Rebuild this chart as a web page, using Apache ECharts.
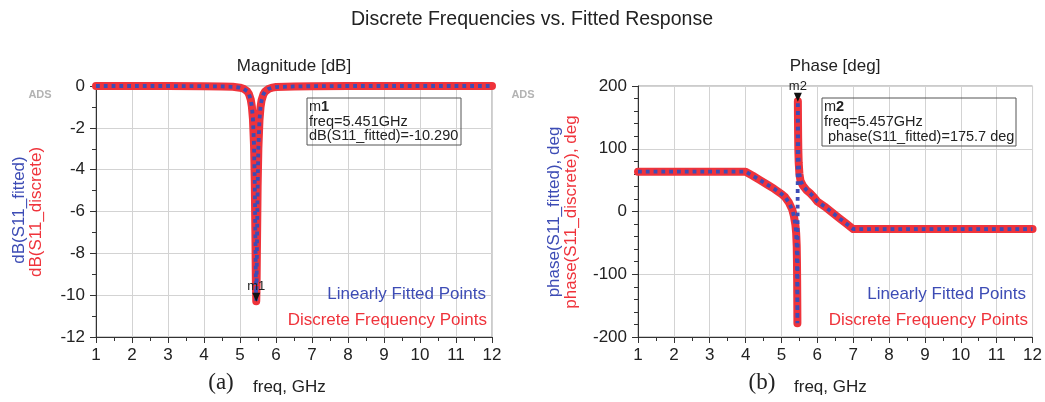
<!DOCTYPE html>
<html>
<head>
<meta charset="utf-8">
<title>Discrete Frequencies vs. Fitted Response</title>
<script src="https://cdn.jsdelivr.net/npm/echarts@6/dist/echarts.min.js"></script>
<style>
  html, body { margin: 0; padding: 0; background: #fff; }
  #chart { width: 1045px; height: 402px; }
</style>
</head>
<body>
<div id="chart"></div>
<script>
// S11 magnitude around the resonance (GHz, dB)
const magFreq = [1, 2, 3, 4, 4.5, 4.8, 5.0, 5.1, 5.2, 5.25, 5.3, 5.33, 5.36, 5.39, 5.41, 5.43, 5.44, 5.451,
  5.46, 5.47, 5.49, 5.51, 5.54, 5.57, 5.6, 5.65, 5.7, 5.8, 5.9, 6.0, 6.5, 7, 8, 9, 10, 11, 12];
const magDb = [0, 0, 0, -0.01, -0.02, -0.04, -0.08, -0.13, -0.25, -0.39, -0.66, -0.99, -1.59, -2.86, -4.54, -7.47, -9.26, -10.29,
  -9.56, -7.83, -4.77, -2.98, -1.65, -1.01, -0.68, -0.40, -0.26, -0.13, -0.08, -0.05, -0.02, -0.01, 0, 0, 0, 0, 0];

// S11 phase (GHz, deg); the phase wraps from -180 to +180 near 5.45 GHz
const phaseFreq = [1, 2, 3, 4, 4.2, 4.4, 4.6, 4.8, 5.0, 5.1, 5.2, 5.3, 5.35, 5.39, 5.41, 5.425, 5.432, 5.437, 5.441, 5.444,
  5.457, 5.46, 5.465, 5.47, 5.48, 5.5, 5.53, 5.6, 5.7, 5.8, 5.9, 6.0, 6.2, 6.4, 6.6, 6.8, 7.0, 8, 9, 10, 11, 12];
const phaseDeg = [63.5, 63.5, 63.5, 63.5, 57, 50, 43, 36, 28, 23, 15, 3, -8, -22, -35, -55, -80, -110, -145, -178,
  175.7, 150, 118, 98, 78, 60, 49, 41, 34, 29, 23, 16, 8, -1, -10, -19, -28, -28, -28, -28, -28, -28];

// axis ticks
const freqTicks = [1, 12, 1];          // min, max, step (GHz)
const magTicks = [-12, 0, 2];          // dB
const phaseTicks = [-200, 200, 100];   // deg

// marker readouts
const m1 = { name: 'm1', freq: 5.451, value: -10.29, lines: ['freq=5.451GHz', 'dB(S11_fitted)=-10.290'] };
const m2 = { name: 'm2', freq: 5.457, value: 175.7, lines: ['freq=5.457GHz', ' phase(S11_fitted)=175.7 deg'] };

const RED = '#ef333b';
const BLUE = '#3d4cb5';
const FONT = '"Liberation Sans", Arial, Helvetica, sans-serif';
const SERIF = '"Liberation Serif", "Times New Roman", serif';

const zip = (xs, ys) => xs.map((x, i) => [x, ys[i]]);

// discrete points: break the trace where the phase wraps
function breakAtWrap(xs, ys) {
  const out = [];
  for (let i = 0; i < xs.length; i++) {
    if (i > 0 && Math.abs(ys[i] - ys[i - 1]) > 180) out.push([null, null]);
    out.push([xs[i], ys[i]]);
  }
  return out;
}

function xAxisCfg(gridIndex) {
  return {
    type: 'value', gridIndex,
    min: freqTicks[0], max: freqTicks[1], interval: freqTicks[2],
    axisLine: { show: true, onZero: false, lineStyle: { color: '#333', width: 1 } },
    axisTick: { show: true, length: 6, lineStyle: { color: '#333' } },
    minorTick: { show: true, splitNumber: 2, length: 4, lineStyle: { color: '#333' } },
    splitLine: { show: true, lineStyle: { color: '#d3d3d3', width: 1 } },
    axisLabel: { color: '#222', fontSize: 17, fontFamily: FONT, margin: 10 }
  };
}
function yAxisCfg(gridIndex, ticks, minorSplit) {
  return {
    type: 'value', gridIndex,
    min: ticks[0], max: ticks[1], interval: ticks[2],
    axisLine: { show: true, onZero: false, lineStyle: { color: '#333', width: 1 } },
    axisTick: { show: true, length: 6, lineStyle: { color: '#333' } },
    minorTick: { show: true, splitNumber: minorSplit, length: 4, lineStyle: { color: '#333' } },
    splitLine: { show: true, lineStyle: { color: '#d3d3d3', width: 1 } },
    axisLabel: { color: '#222', fontSize: 17, fontFamily: FONT, margin: 11 }
  };
}

function markerPoint(m) {
  return {
    symbol: 'triangle', symbolSize: [8, 9], symbolRotate: 180, symbolOffset: [0, -4],
    itemStyle: { color: '#111' },
    label: { show: true, position: 'top', distance: 0, formatter: m.name, color: '#222', fontSize: 13, fontFamily: FONT },
    data: [{ coord: [m.freq, m.value] }]
  };
}

function readout(m, x, y, w, h, lineGap) {
  const els = [{
    type: 'rect', shape: { x, y, width: w, height: h },
    style: { fill: 'transparent', stroke: '#555', lineWidth: 1 }, z: 10
  }, {
    type: 'text', x: x + 2, y: y + 9, z: 10,
    style: {
      text: '{a|m}{b|' + m.name.slice(1) + '}',
      rich: { a: { fontSize: 14.5, fontFamily: FONT, fill: '#222', color: '#222' },
              b: { fontSize: 14.5, fontFamily: FONT, fontWeight: 'bold', fill: '#222', color: '#222' } },
      textVerticalAlign: 'middle', verticalAlign: 'middle'
    }
  }];
  m.lines.forEach((t, i) => {
    els.push({
      type: 'text', x: x + 2, y: y + 9 + (i + 1) * lineGap, z: 10,
      style: { text: t, font: '14.5px ' + FONT, fill: '#222', textVerticalAlign: 'middle', verticalAlign: 'middle' }
    });
  });
  return els;
}

function label(text, x, y, size, color, align, opts, weight) {
  return Object.assign({
    type: 'text', x, y, z: 10,
    style: {
      text, font: (weight ? weight + ' ' : '') + size + 'px ' + FONT, fill: color,
      textAlign: align, align: align, textVerticalAlign: 'middle', verticalAlign: 'middle'
    }
  }, opts || {});
}

const chart = echarts.init(document.getElementById('chart'), null, { renderer: 'canvas' });

const option = {
  animation: false,
  backgroundColor: '#fff',
  grid: [
    { left: 96, top: 86, width: 396, height: 251, show: true, borderColor: '#999', borderWidth: 1, backgroundColor: 'transparent' },
    { left: 638, top: 86, width: 395, height: 251, show: true, borderColor: '#999', borderWidth: 1, backgroundColor: 'transparent' }
  ],
  xAxis: [xAxisCfg(0), xAxisCfg(1)],
  yAxis: [yAxisCfg(0, magTicks, 2), yAxisCfg(1, phaseTicks, 5)],
  series: [
    {
      name: 'Discrete Frequency Points', type: 'line', xAxisIndex: 0, yAxisIndex: 0,
      data: zip(magFreq, magDb), showSymbol: false, symbol: 'none', clip: false, z: 2,
      lineStyle: { color: RED, width: 8, cap: 'round', join: 'round' }
    },
    {
      name: 'Linearly Fitted Points', type: 'line', xAxisIndex: 0, yAxisIndex: 0,
      data: zip(magFreq, magDb), showSymbol: false, symbol: 'none', clip: false, z: 3,
      lineStyle: { color: BLUE, width: 3.8, type: [3.8, 4], cap: 'butt' },
      markPoint: markerPoint(m1)
    },
    {
      name: 'Discrete Frequency Points', type: 'line', xAxisIndex: 1, yAxisIndex: 1,
      data: breakAtWrap(phaseFreq, phaseDeg), connectNulls: false, showSymbol: false, symbol: 'none', clip: false, z: 2,
      lineStyle: { color: RED, width: 8, cap: 'round', join: 'round' }
    },
    {
      name: 'Linearly Fitted Points', type: 'line', xAxisIndex: 1, yAxisIndex: 1,
      data: zip(phaseFreq, phaseDeg), showSymbol: false, symbol: 'none', clip: false, z: 3,
      lineStyle: { color: BLUE, width: 3.8, type: [3.8, 4], cap: 'butt' },
      markPoint: markerPoint(m2)
    }
  ],
  graphic: [
    label('Discrete Frequencies vs. Fitted Response', 532, 20, 19.5, '#222', 'center'),
    label('Magnitude [dB]', 294, 66, 17, '#222', 'center'),
    label('Phase [deg]', 835, 66, 17, '#222', 'center'),
    label('ADS', 40, 95, 11, '#b3b3b3', 'center', null, 'bold'),
    label('ADS', 523, 95, 11, '#b3b3b3', 'center', null, 'bold'),
    label('dB(S11_fitted)', 19, 210, 17, BLUE, 'center', { rotation: Math.PI / 2 }),
    label('dB(S11_discrete)', 36, 212, 17, RED, 'center', { rotation: Math.PI / 2 }),
    label('phase(S11_fitted), deg', 554, 212, 17, BLUE, 'center', { rotation: Math.PI / 2 }),
    label('phase(S11_discrete), deg', 571, 212, 17, RED, 'center', { rotation: Math.PI / 2 }),
    label('Linearly Fitted Points', 486, 294, 17, BLUE, 'right'),
    label('Discrete Frequency Points', 487, 320, 17, RED, 'right'),
    label('Linearly Fitted Points', 1026, 294, 17, BLUE, 'right'),
    label('Discrete Frequency Points', 1028, 320, 17, RED, 'right'),
    { type: 'text', x: 221, y: 383, z: 10, style: { text: '(a)', font: '23px ' + SERIF, fill: '#222', textAlign: 'center', align: 'center', textVerticalAlign: 'middle', verticalAlign: 'middle' } },
    { type: 'text', x: 762, y: 383, z: 10, style: { text: '(b)', font: '23px ' + SERIF, fill: '#222', textAlign: 'center', align: 'center', textVerticalAlign: 'middle', verticalAlign: 'middle' } },
    label('freq, GHz', 253, 387, 17, '#222', 'left'),
    label('freq, GHz', 794, 387, 17, '#222', 'left')
  ].concat(readout(m1, 307, 98, 154, 47, 14.5), readout(m2, 822, 98, 194, 48, 14.8))
};

chart.setOption(option);
</script>
</body>
</html>
